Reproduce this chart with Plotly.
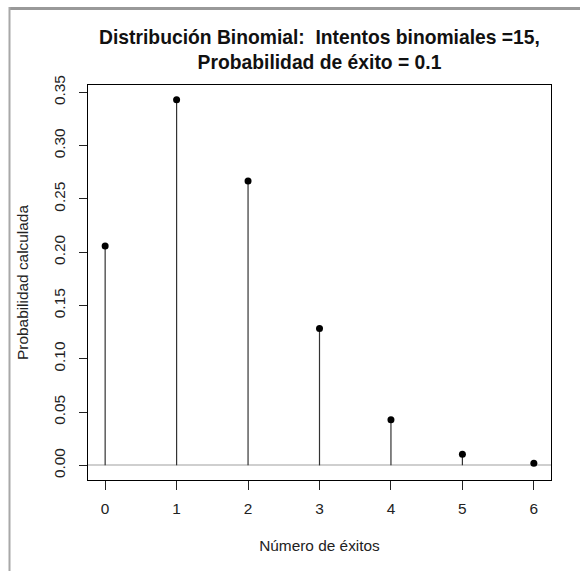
import plotly.graph_objects as go

# Data
exitos = [0, 1, 2, 3, 4, 5, 6]
probabilidad = [0.2059, 0.3432, 0.2669, 0.1285, 0.0428, 0.0105, 0.0019]
y_ticks = [0.00, 0.05, 0.10, 0.15, 0.20, 0.25, 0.30, 0.35]
titulo = "Distribución Binomial:  Intentos binomiales =15,<br>Probabilidad de éxito = 0.1"
x_titulo = "Número de éxitos"
y_titulo = "Probabilidad calculada"

W, H = 580, 571
L, R, T, B = 88, 29, 85, 91
FONT = "Liberation Sans, Arial, sans-serif"

# stems built from data
sx, sy = [], []
for k, p in zip(exitos, probabilidad):
    sx += [k, k, None]
    sy += [0, p, None]

fig = go.Figure()
fig.add_trace(go.Scatter(x=sx, y=sy, mode="lines",
                         line=dict(color="#333333", width=1.2),
                         hoverinfo="skip", showlegend=False))
fig.add_trace(go.Scatter(x=exitos, y=probabilidad, mode="markers",
                         marker=dict(color="black", size=7),
                         showlegend=False))

xmin, xmax = min(exitos), max(exitos)
ymax = max(probabilidad)
xr = [xmin - 0.04 * (xmax - xmin), xmax + 0.04 * (xmax - xmin)]
yr = [0 - 0.04 * ymax, ymax * 1.04]

pw = W - L - R
ph = H - T - B
def px_x(px):
    return (px - L) / pw
def px_y(py):
    return (H - B - py) / ph

# outer gray frame (decoration): left edge and top edge
frame = [
    dict(type="line", xref="paper", yref="paper", layer="above",
         x0=px_x(9.5), x1=px_x(590), y0=px_y(8.5), y1=px_y(8.5),
         line=dict(color="#999999", width=3)),
    dict(type="line", xref="paper", yref="paper", layer="above",
         x0=px_x(9.5), x1=px_x(9.5), y0=px_y(7), y1=px_y(590),
         line=dict(color="#a8a8a8", width=2)),
]

fig.update_layout(
    width=W, height=H,
    margin=dict(l=L, r=R, t=T, b=B),
    paper_bgcolor="white", plot_bgcolor="white",
    font=dict(family=FONT, color="#222222", size=15.4),
    title=dict(text="<b>" + titulo + "</b>", x=0.5, xref="paper",
               y=1 - 44 / H, yref="container", yanchor="top",
               font=dict(size=19.3, color="#111111", family=FONT)),
    shapes=frame,
    showlegend=False,
)
fig.update_xaxes(
    range=xr, tickvals=exitos, ticktext=[str(v) for v in exitos],
    showgrid=False, zeroline=False,
    showline=True, linecolor="black", linewidth=1.2, mirror=True,
    ticks="outside", ticklen=9, tickwidth=1, tickcolor="#222222",
    ticklabelstandoff=5,
    title=dict(text=x_titulo, standoff=24, font=dict(size=15.4)),
)
fig.update_yaxes(
    range=yr, tickvals=y_ticks, ticktext=[f"{v:.2f}" for v in y_ticks],
    tickangle=-90,
    showgrid=False,
    zeroline=True, zerolinecolor="#cfcfcf", zerolinewidth=2,
    showline=True, linecolor="black", linewidth=1.2, mirror=True,
    ticks="outside", ticklen=8, tickwidth=1, tickcolor="#222222",
    ticklabelstandoff=8,
    title=dict(text=y_titulo, standoff=18, font=dict(size=15.4)),
)

fig.write_html("out.html")
